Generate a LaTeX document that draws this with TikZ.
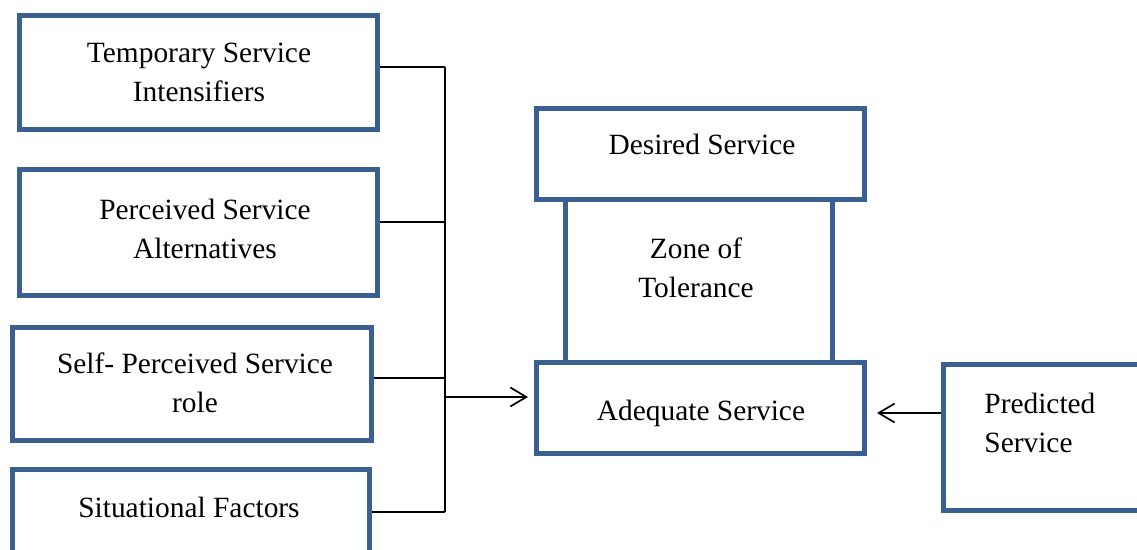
\documentclass[tikz,border=0pt]{standalone}
\usepackage{fontspec}
\setmainfont{Liberation Serif}
\usetikzlibrary{arrows.meta}
\definecolor{boxblue}{RGB}{58,96,146}
\begin{document}
\begin{tikzpicture}[x=0.5pt,y=-0.5pt,
  box/.style={draw=boxblue,line width=2.5pt,fill=white,rectangle,inner sep=0pt},
  txt/.style={inner sep=0pt,align=center,font=\fontsize{14.7}{19.75}\selectfont},
  wire/.style={draw=black,line width=0.85pt},
  arr/.style={wire,-{Straight Barb[length=8pt,width=9.5pt,line width=0.85pt]}}]
\useasboundingbox (0,0) rectangle (1137,550);
\clip (0,0) rectangle (1137,550);
% zone of tolerance (behind)
\node[box,minimum width=133.5pt,minimum height=82pt] (zone) at (698.5,282) {};
% left boxes
\node[box,minimum width=179pt,minimum height=57pt] (b1) at (198.5,72.5) {};
\node[box,minimum width=179pt,minimum height=63pt] (b2) at (198.5,232.5) {};
\node[box,minimum width=179.5pt,minimum height=56.5pt] (b3) at (192,384) {};
\node[box,minimum width=178.5pt,minimum height=47pt] (b4) at (191,516.5) {};
% right boxes
\node[box,minimum width=164pt,minimum height=45.5pt] (des) at (700.5,154.5) {};
\node[box,minimum width=164pt,minimum height=45.5pt] (adq) at (700.5,408) {};
\node[box,minimum width=110pt,minimum height=73pt] (pred) at (1053.5,437.5) {};
% texts (base anchor = baseline of last line)
\node[txt,anchor=base] (t1) at (199,102) {Temporary Service\\Intensifiers};
\node[txt,anchor=base] (t2) at (205,259) {Perceived Service\\Alternatives};
\node[txt,anchor=base] (t3) at (195,413) {Self- Perceived Service\\role};
\node[txt,anchor=base] (t4) at (189,518) {Situational Factors};
\node[txt,anchor=base] (td) at (702,155) {Desired Service};
\node[txt,anchor=base] (tz) at (696,298) {Zone of\\Tolerance};
\node[txt,anchor=base] (ta) at (701,421) {Adequate Service};
\node[txt,anchor=base west,align=left] (tp) at (984,453) {Predicted\\Service};
% bus
\coordinate (bt) at (445,67);
\coordinate (bb) at (445,512);
\coordinate (b2j) at (445,222);
\coordinate (b3j) at (445,378);
\coordinate (aj) at (445,397);
\draw[wire] (bt) -- (bb);
\draw[wire] (b1.east |- bt) -- (bt);
\draw[wire] (b2.east |- b2j) -- (b2j);
\draw[wire] (b3.east |- b3j) -- (b3j);
\draw[wire] (b4.east |- bb) -- (bb);
\draw[arr,shorten >=3pt] (aj) -- (adq.west |- aj);
\coordinate (pj) at (941,413);
\draw[arr,shorten >=5pt] (pred.west |- pj) -- (adq.east |- pj);
\end{tikzpicture}
\end{document}
